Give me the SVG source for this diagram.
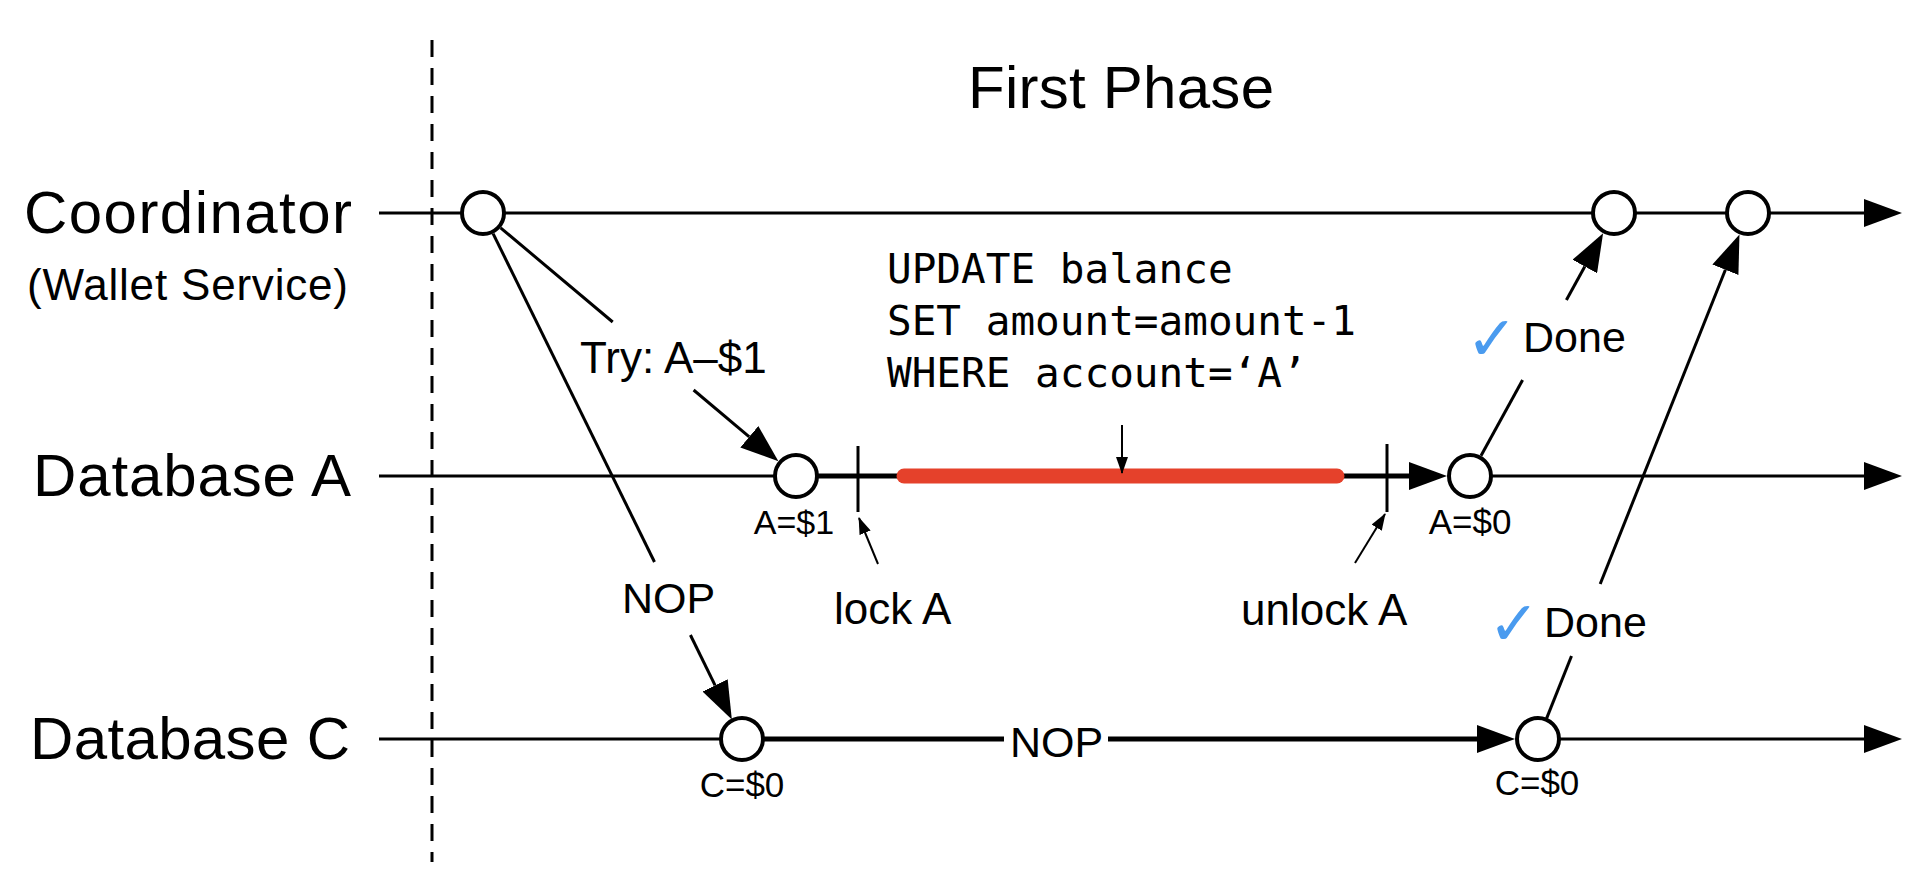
<svg xmlns="http://www.w3.org/2000/svg" width="1920" height="883" viewBox="0 0 1920 883">
<style>
.lbl{font-family:"Liberation Sans",Arial,sans-serif;fill:#000}
.code{font-family:"DejaVu Sans Mono","Liberation Mono",monospace;font-size:41px;fill:#000}
.thin{stroke:#000;stroke-width:3;fill:none}
.thick{stroke:#000;stroke-width:5;fill:none}
.ptr{stroke:#000;stroke-width:2;fill:none}
.node{fill:#fff;stroke:#000;stroke-width:4}
.chk{font-family:"DejaVu Sans",sans-serif;font-weight:bold;font-size:62px;fill:#4A9BEF}
</style>
<defs>
<marker id="big" markerUnits="userSpaceOnUse" markerWidth="38" markerHeight="28" viewBox="0 0 38 28" refX="0" refY="14" orient="auto">
<path d="M0,0 L38,14 L0,28 z" fill="#000"/>
</marker>
<marker id="small" markerUnits="userSpaceOnUse" markerWidth="17" markerHeight="12" viewBox="0 0 17 12" refX="16" refY="6" orient="auto">
<path d="M0,0 L17,6 L0,12 z" fill="#000"/>
</marker>
</defs>
<rect width="1920" height="883" fill="#fff"/>

<g id="phase-divider">
<line x1="432" y1="40" x2="432" y2="862" stroke="#000" stroke-width="3" stroke-dasharray="17 11"/>
<text class="lbl" x="968" y="108" font-size="60" textLength="306">First Phase</text>
</g>

<g id="lane-labels">
<text class="lbl" x="24" y="233" font-size="60" textLength="328">Coordinator</text>
<text class="lbl" x="27" y="300" font-size="44" textLength="321">(Wallet Service)</text>
<text class="lbl" x="33" y="496" font-size="60" textLength="318">Database A</text>
<text class="lbl" x="30" y="759" font-size="60" textLength="320">Database C</text>
</g>

<g id="connectors">
<line class="thin" x1="379" y1="213" x2="1864" y2="213" marker-end="url(#big)"/>
<line class="thin" x1="379" y1="476" x2="796" y2="476"/>
<line class="thick" x1="796" y1="476" x2="1409" y2="476" marker-end="url(#big)"/>
<line class="thin" x1="1470" y1="476" x2="1864" y2="476" marker-end="url(#big)"/>
<line class="thin" x1="379" y1="739" x2="742" y2="739"/>
<line class="thick" x1="742" y1="739" x2="1004" y2="739"/>
<line class="thick" x1="1108" y1="739" x2="1477" y2="739" marker-end="url(#big)"/>
<line class="thin" x1="1538" y1="739" x2="1864" y2="739" marker-end="url(#big)"/>
<line class="thin" x1="858" y1="446" x2="858" y2="512"/>
<line class="thin" x1="1387" y1="444" x2="1387" y2="512"/>
<line x1="904" y1="476" x2="1337" y2="476" stroke="#E5412B" stroke-width="15" stroke-linecap="round"/>
<line class="ptr" x1="1122" y1="425" x2="1122" y2="473" marker-end="url(#small)"/>
<line class="ptr" x1="878" y1="564" x2="859" y2="518" marker-end="url(#small)"/>
<line class="ptr" x1="1355" y1="563" x2="1385" y2="514" marker-end="url(#small)"/>
<line class="thin" x1="500.6" y1="227.8" x2="612.7" y2="322"/>
<line class="thin" x1="693.6" y1="390" x2="749.3" y2="436.8" marker-end="url(#big)"/>
<line class="thin" x1="493.1" y1="233.6" x2="654.5" y2="562"/>
<line class="thin" x1="690.4" y1="635" x2="715.1" y2="685.3" marker-end="url(#big)"/>
<line class="thin" x1="1481" y1="455.8" x2="1522.6" y2="380"/>
<line class="thin" x1="1566.4" y1="300" x2="1584.8" y2="266.5" marker-end="url(#big)"/>
<line class="thin" x1="1546.5" y1="718.6" x2="1571.5" y2="656"/>
<line class="thin" x1="1600.2" y1="584" x2="1725.4" y2="269.7" marker-end="url(#big)"/>
</g>

<g id="coord-start"><circle class="node" cx="483" cy="213" r="21"/></g>
<g id="coord-done-a"><circle class="node" cx="1614" cy="213" r="21"/></g>
<g id="coord-done-c"><circle class="node" cx="1748" cy="213" r="21"/></g>
<g id="a-try">
<circle class="node" cx="796" cy="476" r="21"/>
<text class="lbl" x="794" y="534" font-size="34" text-anchor="middle">A=$1</text>
</g>
<g id="a-done">
<circle class="node" cx="1470" cy="476" r="21"/>
<text class="lbl" x="1470" y="534" font-size="35" text-anchor="middle">A=$0</text>
</g>
<g id="c-try">
<circle class="node" cx="742" cy="739" r="21"/>
<text class="lbl" x="742" y="797" font-size="35" text-anchor="middle">C=$0</text>
</g>
<g id="c-done">
<circle class="node" cx="1538" cy="739" r="21"/>
<text class="lbl" x="1537" y="795" font-size="35" text-anchor="middle">C=$0</text>
</g>

<g id="labels">
<text class="lbl" x="580" y="373" font-size="44">Try: A–$1</text>
<text class="lbl" x="622" y="613" font-size="43">NOP</text>
<text class="lbl" x="1010" y="757" font-size="43">NOP</text>
<text class="lbl" x="834" y="624" font-size="44">lock A</text>
<text class="lbl" x="1241" y="625" font-size="44">unlock A</text>
<text class="chk" x="1466" y="360">✓</text>
<text class="lbl" x="1523" y="352" font-size="43">Done</text>
<text class="chk" x="1488" y="645">✓</text>
<text class="lbl" x="1544" y="637" font-size="43">Done</text>
</g>

<g id="sql">
<text class="code" x="887" y="283">UPDATE balance</text>
<text class="code" x="887" y="335">SET amount=amount-1</text>
<text class="code" x="887" y="387">WHERE account=‘A’</text>
</g>
</svg>
